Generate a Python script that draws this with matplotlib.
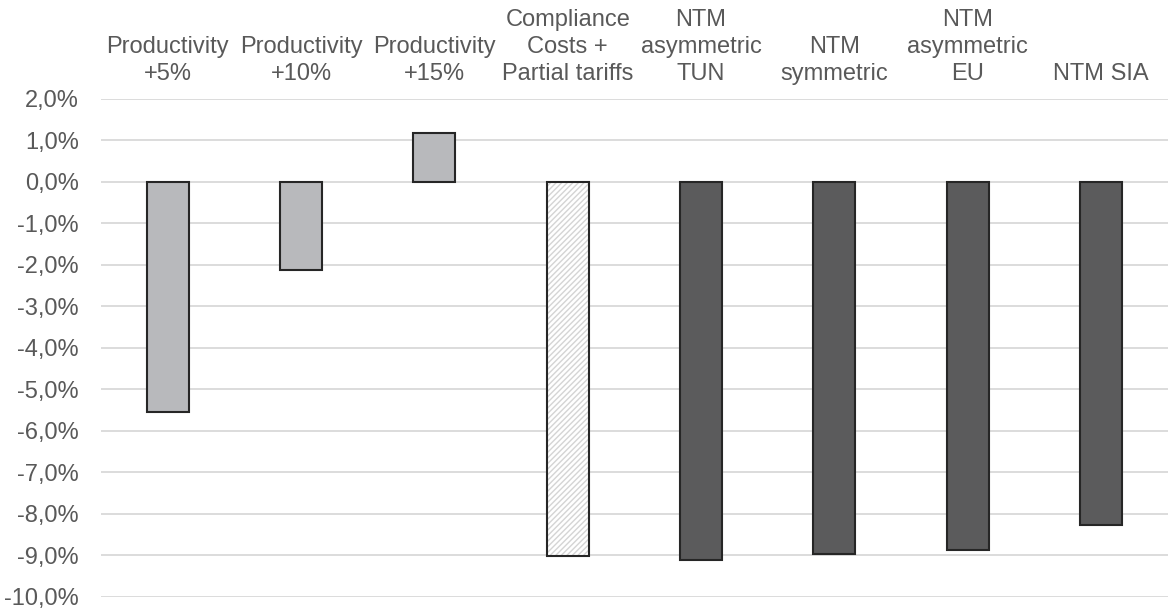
import matplotlib
matplotlib.use("Agg")
import matplotlib.pyplot as plt
from matplotlib.ticker import FuncFormatter, MultipleLocator
import numpy as np

categories = ["Productivity\n+5%", "Productivity\n+10%", "Productivity\n+15%",
              "Compliance\nCosts +\nPartial tariffs", "NTM\nasymmetric\nTUN",
              "NTM\nsymmetric", "NTM\nasymmetric\nEU", "NTM SIA"]
values = [-5.54, -2.13, 1.18, -9.02, -9.11, -8.97, -8.86, -8.27]
groups = ["prod", "prod", "prod", "hatch", "ntm", "ntm", "ntm", "ntm"]

plt.rcParams['font.family'] = ['Liberation Sans', 'DejaVu Sans']
text_col = "#595959"

fig = plt.figure(figsize=(11.69, 6.14), dpi=100)
ax = fig.add_axes([0.0864, 0.0277, 0.9126, 0.8111])

x = np.arange(len(categories))
fills = {"prod": "#b8b9bc", "hatch": "white", "ntm": "#5b5b5c"}
for xi, v, g in zip(x, values, groups):
    if g == "hatch":
        # hatched fill first, then the dark outline on top
        ax.bar(xi, v, width=0.315, color="white", edgecolor="#d4d4d4",
               hatch="//////", linewidth=0, zorder=3)
        ax.bar(xi, v, width=0.315, fill=False, edgecolor="#262626",
               linewidth=1.5, zorder=4)
    else:
        ax.bar(xi, v, width=0.315, color=fills[g], edgecolor="#262626",
               linewidth=1.5, zorder=3)

ax.set_xlim(-0.5, len(categories) - 0.5)
ax.set_ylim(-10, 2)
ax.yaxis.set_major_locator(MultipleLocator(1))
ax.yaxis.set_major_formatter(FuncFormatter(lambda v, p: f"{v:.1f}%".replace(".", ",")))
ax.grid(axis="y", color="#d9d9d9", linewidth=1.3, zorder=0)
ax.set_axisbelow(True)

ax.xaxis.tick_top()
ax.set_xticks(x)
ax.set_xticklabels(categories, linespacing=1.29)
ax.tick_params(axis="x", length=0, pad=10, labelsize=17, labelcolor=text_col)
ax.tick_params(axis="y", length=0, pad=16, labelsize=17, labelcolor=text_col)
for s in ax.spines.values():
    s.set_visible(False)

fig.savefig("out.png", dpi=100)
